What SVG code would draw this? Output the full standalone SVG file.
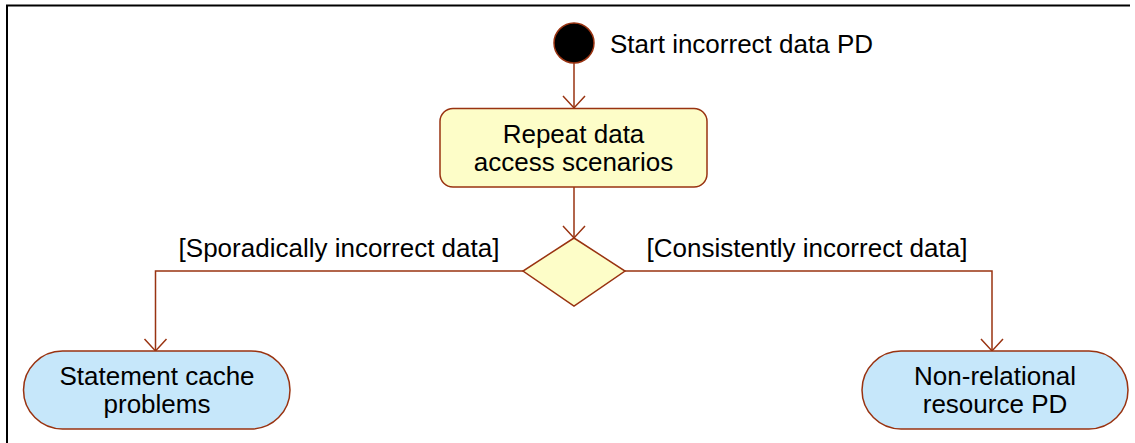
<svg xmlns="http://www.w3.org/2000/svg" width="1135" height="443" viewBox="0 0 1135 443">
<style>
text{font-family:"Liberation Sans",Arial,sans-serif;font-size:26px;fill:#000}
.c{text-anchor:middle}
.e{fill:none;stroke:#993311;stroke-width:1.5}
.act{fill:#fdfdc8;stroke:#993311;stroke-width:1.5}
.end{fill:#c6e7fa;stroke:#993311;stroke-width:1.5}
</style>
<defs>
<marker id="a" viewBox="0 0 30 30" refX="27" refY="15" markerWidth="30" markerHeight="30" markerUnits="userSpaceOnUse" orient="auto">
<path d="M15 4 L27 15 L15 26" fill="none" stroke="#993311" stroke-width="1.5"/>
</marker>
</defs>
<rect width="1135" height="443" fill="#fff"/>
<path d="M7 443 V5.5 H1130" fill="none" stroke="#000" stroke-width="2"/>
<g id="connectors">
<line class="e" x1="574" y1="63" x2="574" y2="108" marker-end="url(#a)"/>
<line class="e" x1="574" y1="187" x2="574" y2="238" marker-end="url(#a)"/>
<polyline class="e" points="523,271 155.5,271 155.5,351" marker-end="url(#a)"/>
<polyline class="e" points="625,271 992,271 992,351" marker-end="url(#a)"/>
<text x="339" y="257" class="c">[Sporadically incorrect data]</text>
<text x="807" y="257" class="c">[Consistently incorrect data]</text>
</g>
<g id="start">
<circle cx="574" cy="43" r="20" fill="#000" stroke="#993311" stroke-width="1.5"/>
<text x="610" y="53">Start incorrect data PD</text>
</g>
<g id="repeat">
<rect class="act" x="440" y="108.5" width="267" height="78.5" rx="13"/>
<text x="573.5" y="143" class="c">Repeat data</text>
<text x="573.5" y="171" class="c">access scenarios</text>
</g>
<g id="decision">
<polygon class="act" points="574,238 625,271 574,306 523,271"/>
</g>
<g id="stmt">
<rect class="end" x="23.5" y="351" width="266.5" height="78" rx="39"/>
<text x="157" y="385" class="c">Statement cache</text>
<text x="157" y="413" class="c">problems</text>
</g>
<g id="nonrel">
<rect class="end" x="862" y="351" width="266" height="78" rx="39"/>
<text x="995" y="385" class="c">Non-relational</text>
<text x="995" y="413" class="c">resource PD</text>
</g>
</svg>
